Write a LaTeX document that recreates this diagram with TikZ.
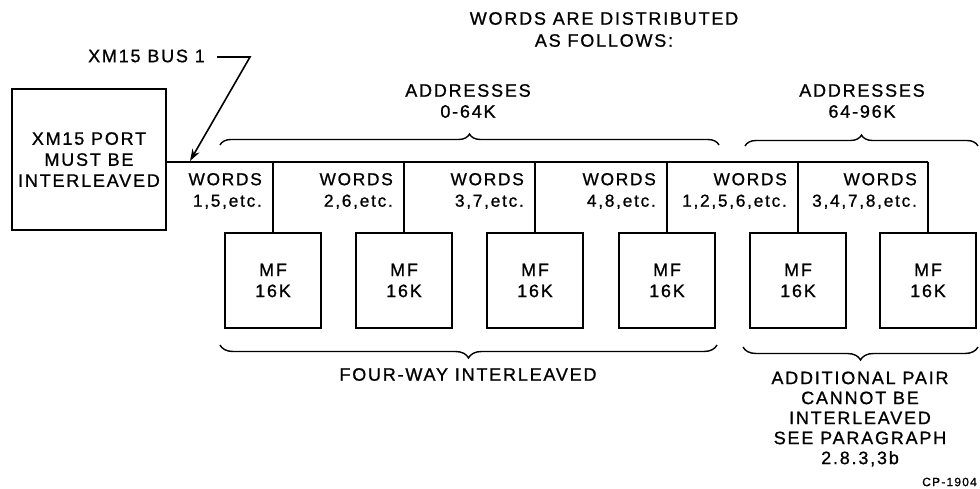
\documentclass[tikz,border=0pt]{standalone}
\usepackage{fontspec}
\newfontfamily\lett{Liberation Sans}[LetterSpace=10,FakeBold=0.9]
\usetikzlibrary{decorations.pathreplacing,arrows.meta}
\begin{document}
\begin{tikzpicture}[x=1pt,y=-1pt,
  txt/.style={font=\lett\fontsize{18}{21}\selectfont, inner sep=0pt, align=center},
  wordlbl/.style={txt, font=\lett\fontsize{17.3}{21.5}\selectfont, align=right, anchor=east},
  box/.style={draw, line width=2.6pt, minimum width=96pt, minimum height=95pt, inner sep=0pt, txt},
  wire/.style={line width=1.6pt},
  brc/.style={decorate, decoration={brace, amplitude=11pt}, line width=1.4pt}]
\useasboundingbox (0,0) rectangle (980,489);
% title
\node[txt, font=\lett\fontsize{18}{22}\selectfont] (title) at (604,29.5) {WORDS ARE DISTRIBUTED\\AS FOLLOWS:};
% port
\node[draw, line width=2.6pt, minimum width=154pt, minimum height=141pt, txt] (port) at (89,159.5) {XM15 PORT\\MUST BE\\INTERLEAVED};
\node[txt, anchor=east] (buslbl) at (205,56) {XM15 BUS 1};
% memory boxes
\foreach \i/\x in {1/273,2/404,3/535,4/667,5/798,6/928}{
  \node[box] (mf\i) at (\x,280.5) {MF\\16K};
  \coordinate (t\i) at (\x,162);
}
\draw[wire] (port.east |- t1) -- (t6);
\foreach \i in {1,...,6} \draw[wire] (t\i) -- (mf\i.north);
% bus arrow
\coordinate (a0) at (217,57);
\coordinate (a1) at (250,57);
\coordinate (ah) at (190,161);
\draw[wire, -{Stealth[length=12pt,width=8pt]}] (a0) -- (a1) -- (ah);
% word labels
\node[wordlbl] (w1) at (262,191) {WORDS\\1,5,etc.};
\node[wordlbl] (w2) at (393,191) {WORDS\\2,6,etc.};
\node[wordlbl] (w3) at (524,191) {WORDS\\3,7,etc.};
\node[wordlbl] (w4) at (656,191) {WORDS\\4,8,etc.};
\node[wordlbl] (w5) at (787,191) {WORDS\\1,2,5,6,etc.};
\node[wordlbl] (w6) at (917,191) {WORDS\\3,4,7,8,etc.};
% top braces
\draw[brc] (220,145) -- (719,145);
\node[txt] (ad1) at (468,101) {ADDRESSES\\0-64K};
\draw[brc] (745,146) -- (978,146);
\node[txt] (ad2) at (862,101) {ADDRESSES\\64-96K};
% bottom braces
\draw[brc, decoration={amplitude=13pt}] (717,345) -- (220,345);
\node[txt] (four) at (468,374.5) {FOUR-WAY INTERLEAVED};
\draw[brc, decoration={amplitude=13pt}] (978,347) -- (743,347);
\node[txt, font=\lett\fontsize{18}{20}\selectfont] (add) at (860,419) {ADDITIONAL PAIR\\CANNOT BE\\INTERLEAVED\\SEE PARAGRAPH\\2.8.3,3b};
\node[txt, anchor=east, font=\lett\fontsize{12}{14}\selectfont] (cp) at (977,482) {CP-1904};
\end{tikzpicture}
\end{document}
